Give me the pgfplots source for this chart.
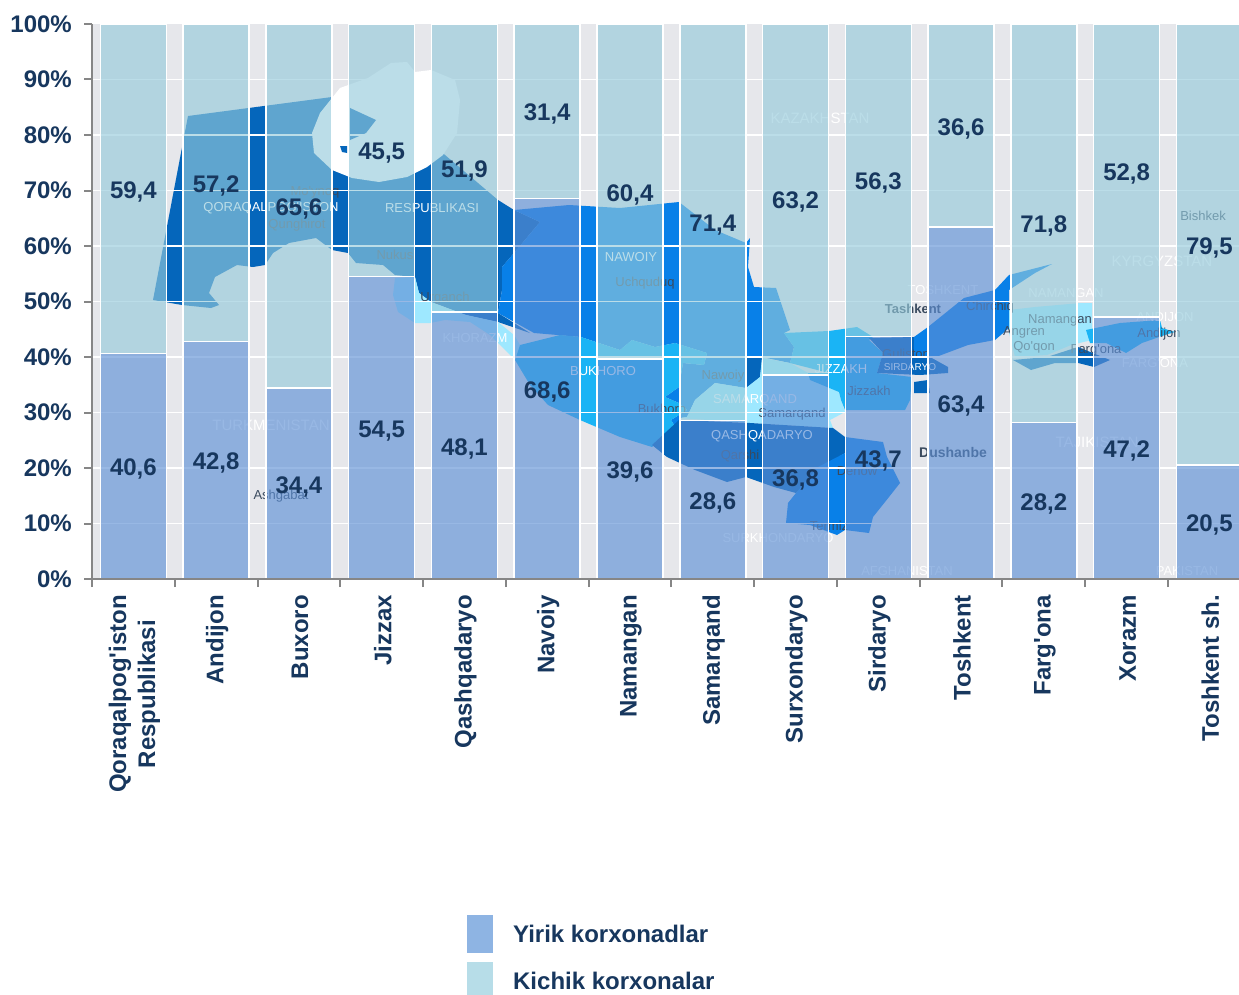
\documentclass[border=0pt]{standalone}
\usepackage{fontspec}
\setmainfont{Liberation Sans}
\usepackage{pgfplots}
\pgfplotsset{compat=1.18}
\definecolor{navy}{HTML}{17375E}
\definecolor{axisgrey}{HTML}{868686}
\definecolor{backg}{HTML}{E6E7EB}
\definecolor{dkblue}{HTML}{0566BB}
\definecolor{mdblue}{HTML}{0880E8}
\definecolor{brblue}{HTML}{1AB4F5}
\definecolor{ltblue}{HTML}{9EE8FF}
\definecolor{lowbar}{RGB}{92,143,213}
\definecolor{upbar}{RGB}{148,202,219}
\definecolor{leglow}{HTML}{8EB4E3}
\definecolor{legup}{HTML}{B7DDE8}
\definecolor{cityc}{HTML}{3A4A5E}
\newcommand\reg[2]{\addplot[fill=#1,draw=none,forget plot] coordinates {#2} --cycle;}
\newcommand\wtxt[3]{\node[text=white,font=\fontsize{13}{15}\selectfont,inner sep=0pt] at (axis cs:#1,#2) {#3};}
\newcommand\dtxt[3]{\node[text=cityc,font=\fontsize{13}{15}\selectfont,inner sep=0pt] at (axis cs:#1,#2) {#3};}
\pgfplotstableread{
x low up
0 40.6 59.4
1 42.8 57.2
2 34.4 65.6
3 54.5 45.5
4 48.1 51.9
5 68.6 31.4
6 39.6 60.4
7 28.6 71.4
8 36.8 63.2
9 43.7 56.3
10 63.4 36.6
11 28.2 71.8
12 47.2 52.8
13 20.5 79.5
}\shares
\begin{document}
\begin{tikzpicture}[x=1pt,y=1pt]
\path[use as bounding box] (0pt,0pt) rectangle (1239pt,994pt);
\clip (0pt,0pt) rectangle (1239pt,994pt);
\fill[white] (0pt,0pt) rectangle (1239pt,994pt);
% map underneath, in picture coordinates
\begin{axis}[at={(92pt,415pt)},anchor=south west,scale only axis,width=1147pt,height=555pt,
  xmin=92,xmax=1239,ymin=24,ymax=579,y dir=reverse,hide axis]
\reg{backg}{(92,24)(1239,24)(1239,579)(92,579)}
% Qoraqalpog'iston
\reg{dkblue}{(153,300)(188,116)(332,97)(400,120)(445,155)(498,200)(514,210)(540,222)(514,253)(502,267)(502,290)(498,313)(530,333)(498,322)(466,315)(431,302)(419,293)(415,277)(395,275)(383,265)(356,263)(348,253)(332,250)(316,238)(289,243)(273,253)(265,265)(253,267)(237,265)(215,277)(209,293)(219,305)(211,308)(182,305)}
% Xorazm
\reg{ltblue}{(395,278)(415,277)(419,293)(431,302)(466,315)(498,322)(514,335)(520,345)(515,360)(490,335)(470,322)(445,320)(430,323)(415,323)(398,312)(393,295)}
% Navoiy
\reg{mdblue}{(514,210)(569,205)(620,208)(679,202)(715,230)(746,243)(750,238)(748,267)(754,287)(776,288)(790,330)(784,333)(794,347)(790,363)(762,357)(760,377)(746,388)(715,383)(695,400)(687,417)(680,418)(679,433)(671,420)(687,410)(679,403)(665,397)(679,387)(683,363)(704,365)(707,353)(675,343)(655,347)(632,340)(620,350)(581,337)(534,333)(498,313)(502,290)(502,267)(514,253)(540,222)}
\reg{dkblue}{(746,357)(762,357)(760,377)(746,388)}
% Buxoro
\reg{brblue}{(520,345)(560,335)(581,337)(620,350)(632,340)(655,347)(675,343)(707,353)(704,365)(683,363)(679,387)(665,397)(679,403)(687,410)(671,420)(679,433)(663,437)(652,447)(620,437)(580,420)(548,405)(530,385)(515,360)}
% Samarqand
\reg{ltblue}{(695,400)(715,383)(746,388)(760,377)(762,358)(790,363)(808,373)(810,380)(839,392)(841,400)(845,412)(830,420)(833,428)(750,423)(680,418)(687,417)}
% Jizzax
\reg{brblue}{(784,333)(829,331)(857,327)(873,337)(869,340)(883,353)(877,373)(912,377)(910,400)(905,410)(845,410)(841,400)(839,392)(810,380)(808,373)(829,373)(790,363)(794,347)}
% Qashqadaryo
\reg{dkblue}{(652,445)(679,420)(750,423)(833,428)(845,437)(845,453)(829,463)(796,493)(774,487)(746,477)(727,482)(695,470)(667,457)}
% Surxondaryo
\reg{mdblue}{(845,437)(883,442)(887,457)(900,483)(889,497)(873,517)(869,533)(845,530)(837,535)(810,525)(786,523)(788,503)(796,493)(818,467)(845,453)}
% Sirdaryo
\reg{dkblue}{(869,338)(914,337)(930,345)(930,357)(948,367)(948,373)(920,375)(877,373)(883,353)}
\reg{dkblue}{(914,382)(928,380)(930,393)(914,393)}
% Toshkent
\reg{mdblue}{(914,337)(928,327)(964,298)(995,290)(1009,275)(1052,264)(1035,273)(1009,290)(1009,328)(995,340)(968,345)(936,357)(914,357)}
% Namangan
\reg{ltblue}{(1009,310)(1035,307)(1081,303)(1092,303)(1092,340)(1071,345)(1047,355)(1015,357)(1009,333)}
% Farg'ona
\reg{dkblue}{(1013,360)(1047,357)(1078,347)(1110,360)(1094,367)(1078,363)(1055,363)(1031,370)}
% Andijon
\reg{brblue}{(1086,330)(1120,323)(1160,320)(1162,328)(1175,332)(1165,335)(1142,343)(1126,353)(1106,343)(1090,343)}
% Aral sea
\reg{white}{(312,133)(320,113)(340,88)(368,78)(391,63)(407,62)(415,72)(431,70)(455,80)(460,100)(457,133)(443,155)(427,167)(407,177)(379,182)(352,178)(332,170)(314,153)}
\reg{dkblue}{(350,108)(376,120)(366,133)(350,140)}
\reg{dkblue}{(340,146)(347,146)(347,153)(342,152)}
% map lettering
\wtxt{271}{208}{QORAQALPOG\textquotesingle ISTON}
\wtxt{432}{208}{RESPUBLIKASI}
\dtxt{315}{192}{Mo\textquotesingle ynoq}
\dtxt{297}{225}{Qunghirot}
\dtxt{395}{255}{Nukus}
\dtxt{445}{298}{Urganch}
\wtxt{475}{338}{KHORAZM}
\wtxt{631}{257}{NAWOIY}
\dtxt{645}{283}{Uchquduq}
\wtxt{603}{371}{BUKHORO}
\dtxt{723}{376}{Nawoiy}
\dtxt{662}{409}{Bukhoro}
\wtxt{755}{400}{SAMARQAND}
\dtxt{792}{414}{Samarqand}
\wtxt{762}{436}{QASHQADARYO}
\dtxt{740}{456}{Qarshi}
\dtxt{857}{471}{Denow}
\dtxt{829}{526}{Termiz}
\wtxt{841}{369}{JIZZAKH}
\dtxt{869}{391}{Jizzakh}
\dtxt{906}{354}{Guliston}
\wtxt{910}{367}{\fontsize{10}{12}\selectfont SIRDARYO}
\node[text=cityc,font=\fontsize{13}{15}\selectfont\bfseries,inner sep=0pt] at (axis cs:913,309) {Tashkent};
\dtxt{990}{307}{Chirchiq}
\dtxt{1024}{332}{Angren}
\dtxt{1034}{347}{Qo\textquotesingle qon}
\dtxt{1060}{320}{Namangan}
\dtxt{1159}{334}{Andijon}
\dtxt{1096}{350}{Farg\textquotesingle ona}
\wtxt{943}{290}{TOSHKENT}
\wtxt{1066}{293}{NAMANGAN}
\wtxt{1165}{317}{ANDIJON}
\wtxt{1155}{363}{FARG\textquotesingle ONA}
\wtxt{820}{118}{\fontsize{15}{17}\selectfont KAZAKHSTAN}
\wtxt{271}{425}{\fontsize{15}{17}\selectfont TURKMENISTAN}
\dtxt{281}{496}{Ashgabat}
\wtxt{1097}{442}{\fontsize{15}{17}\selectfont TAJIKISTAN}
\node[text=cityc,font=\fontsize{14}{16}\selectfont\bfseries,inner sep=0pt] at (axis cs:953,452) {Dushanbe};
\wtxt{1162}{261}{\fontsize{15}{17}\selectfont KYRGYZSTAN}
\dtxt{1203}{216}{Bishkek}
\wtxt{907}{571}{AFGHANISTAN}
\wtxt{1187}{571}{PAKISTAN}
\wtxt{778}{538}{SURKHONDARYO}
\end{axis}
% grid and translucent bars
\begin{axis}[at={(92pt,415pt)},anchor=south west,scale only axis,width=1147pt,height=555pt,
  xmin=-0.5,xmax=13.358,ymin=0,ymax=100,
  ybar stacked,bar width=66pt,
  ytick={10,20,...,90},yticklabels={},xtick=\empty,
  ymajorgrids,grid style={white,line width=1.5pt},
  axis line style={draw=none},tick style={draw=none},major tick length=0pt]
\addplot[fill=lowbar,fill opacity=0.63,draw=white,draw opacity=1,line width=1.5pt] table[x=x,y=low]{\shares};
\addplot[fill=upbar,fill opacity=0.63,draw=white,draw opacity=1,line width=1.5pt] table[x=x,y=up]{\shares};
\end{axis}
% axis lines, ticks, labels, legend
\begin{axis}[at={(92pt,415pt)},anchor=south west,scale only axis,width=1147pt,height=555pt,
  xmin=-0.5,xmax=13.358,ymin=0,ymax=100,
  axis x line*=bottom,axis y line*=left,
  axis line style={-,axisgrey,line width=2pt},
  ytick={0,10,...,100},
  yticklabels={0\%,10\%,20\%,30\%,40\%,50\%,60\%,70\%,80\%,90\%,100\%},
  xtick={0,...,13},
  xticklabels={{Qoraqalpog\textquotesingle iston\\Respublikasi},Andijon,Buxoro,Jizzax,Qashqadaryo,Navoiy,Namangan,Samarqand,Surxondaryo,Sirdaryo,Toshkent,Farg\textquotesingle ona,Xorazm,Toshkent sh.},
  minor xtick={-0.5,0.5,...,12.5},
  tick align=outside,
  major tick length=8pt,minor tick length=8pt,
  tick style={axisgrey,line width=2pt},
  major x tick style={draw=none},
  xticklabel style={rotate=90,anchor=east,align=center,font=\fontsize{24}{29}\selectfont\bfseries,text=navy,inner sep=0pt,xshift=-8pt,yshift=-1pt},
  yticklabel style={font=\fontsize{24}{28}\selectfont\bfseries,text=navy,inner sep=0pt,xshift=-12pt},
  legend style={at={(0.3269,-0.6054)},anchor=north west,draw=none,fill=none,inner sep=0pt,
    row sep=9pt,font=\fontsize{24}{28}\selectfont\bfseries,text=navy,cells={anchor=west},
    nodes={inner sep=0pt}},
  legend cell align=left]
\addlegendimage{legend image code/.code={\fill[leglow,draw=none] (0pt,-19pt) rectangle (26pt,19pt);\path[draw=none] (26pt,0pt) -- (46pt,0pt);}}
\addlegendentry{Yirik korxonadlar}
\addlegendimage{legend image code/.code={\fill[legup,draw=none] (0pt,-19pt) rectangle (26pt,19pt);\path[draw=none] (26pt,0pt) -- (46pt,0pt);}}
\addlegendentry{Kichik korxonalar}
\addplot[only marks,mark=none,forget plot,nodes near coords,point meta=explicit symbolic,
  every node near coord/.append style={anchor=center,inner sep=0pt,text=navy,yshift=-3pt,font=\fontsize{24}{28}\selectfont\bfseries}]
  coordinates {
  (0,20.3)[{40,6}] (1,21.4)[{42,8}] (2,17.2)[{34,4}] (3,27.25)[{54,5}] (4,24.05)[{48,1}] (5,34.3)[{68,6}] (6,19.8)[{39,6}] (7,14.3)[{28,6}] (8,18.4)[{36,8}] (9,21.85)[{43,7}] (10,31.7)[{63,4}] (11,14.1)[{28,2}] (12,23.6)[{47,2}] (13,10.25)[{20,5}]
  (0,70.3)[{59,4}] (1,71.4)[{57,2}] (2,67.2)[{65,6}] (3,77.25)[{45,5}] (4,74.05)[{51,9}] (5,84.3)[{31,4}] (6,69.8)[{60,4}] (7,64.3)[{71,4}] (8,68.4)[{63,2}] (9,71.85)[{56,3}] (10,81.7)[{36,6}] (11,64.1)[{71,8}] (12,73.6)[{52,8}] (13,60.25)[{79,5}]
  };
\end{axis}
\end{tikzpicture}
\end{document}
